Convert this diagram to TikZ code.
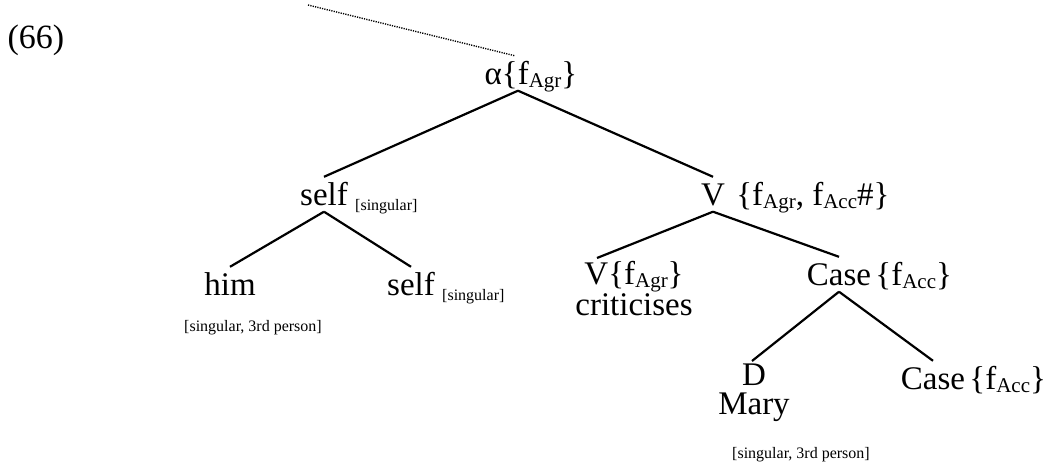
\documentclass[tikz,border=0pt]{standalone}
\usepackage{fontspec}
\setmainfont{Liberation Serif}
\usetikzlibrary{positioning}
\newcommand{\fsub}[1]{\raisebox{-3pt}{\fontsize{21}{23}\selectfont #1}}
\tikzset{
    cat/.style={font=\fontsize{33}{38}\selectfont, inner xsep=2pt, inner ysep=5pt, text height=23pt, text depth=1.5pt, anchor=base},
    word/.style={font=\fontsize{33}{38}\selectfont, inner sep=0pt, anchor=base},
    pair/.style={align=center, inner xsep=0pt, inner ysep=3pt, anchor=north},
    feat/.style={font=\fontsize{16}{19}\selectfont, inner sep=0pt, anchor=base west},
    note/.style={font=\fontsize{16}{19}\selectfont, inner sep=0pt, anchor=base},
    branch/.style={line width=2.2pt},
    dots/.style={line width=1.4pt, dash pattern=on 1.2pt off 1.2pt},
}
\begin{document}
\begin{tikzpicture}[x=1pt, y=-1pt]
    \useasboundingbox (0,0) rectangle (1044,466);
    \node[word, font=\fontsize{34}{38}\selectfont] (ex) at (36,48) {(66)};
    \node[cat] (alpha) at (531,84) {α\{f\fsub{Agr}\}};
    \node[cat] (selfA) at (324,205) {self};
    \node[feat] (selfAf) at ([xshift=5pt, yshift=-5pt]selfA.base east) {[singular]};
    \node[cat] (v) at (713,205) {V};
    \node[word, anchor=base west] (vf) at ([xshift=9pt]v.base east) {\{f\fsub{Agr}, f\fsub{Acc}\#\}};
    \node[cat] (him) at (230,295) {him};
    \node[note] (himf) at (253,331) {[singular, 3rd person]};
    \node[cat] (selfB) at (411,295) {self};
    \node[feat] (selfBf) at ([xshift=5pt, yshift=-5pt]selfB.base east) {[singular]};
    \node[pair, font=\fontsize{33}{31}\selectfont] (v2) at (634,258) {V\{f\fsub{Agr}\}\\criticises};
    \node[cat] (case1) at (839,285) {Case};
    \node[word, anchor=base west] (case1f) at ([xshift=2pt]case1.base east) {\{f\fsub{Acc}\}};
    \node[pair, font=\fontsize{33}{29}\selectfont] (d) at (754,361) {D\\Mary};
    \node[note] (maryf) at (801,458) {[singular, 3rd person]};
    \node[cat] (case2) at (933,389) {Case};
    \node[word, anchor=base west] (case2f) at ([xshift=2pt]case2.base east) {\{f\fsub{Acc}\}};
    \coordinate (up) at (308,5);
    \draw[dots] (up) -- ([xshift=-16pt]alpha.north);
    \draw[branch] ([xshift=-13pt]alpha.south) -- (selfA.north);
    \draw[branch] ([xshift=-13pt]alpha.south) -- (v.north);
    \draw[branch] (selfA.south) -- (him.north);
    \draw[branch] (selfA.south) -- (selfB.north);
    \draw[branch] (v.south) -- ([xshift=-37pt]v2.north);
    \draw[branch] (v.south) -- (case1.north);
    \draw[branch] (case1.south) -- ([xshift=-2pt]d.north);
    \draw[branch] (case1.south) -- (case2.north);
\end{tikzpicture}
\end{document}
